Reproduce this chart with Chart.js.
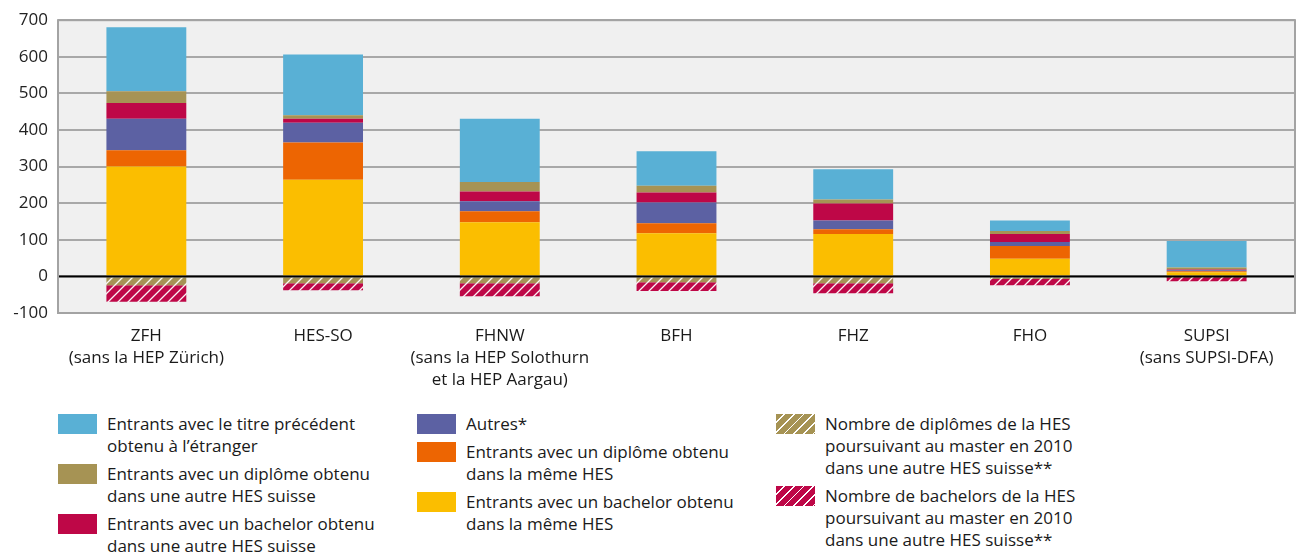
<!DOCTYPE html>
<html>
<head>
<meta charset="utf-8">
<script src="https://cdn.jsdelivr.net/npm/chart.js@4/dist/chart.umd.min.js"></script>
<style>
  html, body { margin: 0; padding: 0; background: #fff; }
  body { width: 1302px; height: 556px; position: relative; overflow: hidden; font-family: "Open Sans", sans-serif; color: #1a1a1a; }
  #wrap { position: absolute; left: 0; top: 0; width: 1302px; height: 400px; }
  .col { position: absolute; top: 413px; }
  .item { position: relative; padding-left: 49px; font-size: 17px; line-height: 22px; margin-bottom: 6px; white-space: nowrap; }
  .sw { position: absolute; left: 0; top: 1px; width: 39px; height: 20px; }
</style>
</head>
<body>
<div id="wrap"><canvas id="c" width="1302" height="400"></canvas></div>
<div id="legend"></div>
<script>
// ---- data ----
const categories = [
  ["ZFH", "(sans la HEP Zürich)"],
  ["HES-SO"],
  ["FHNW", "(sans la HEP Solothurn", "et la HEP Aargau)"],
  ["BFH"],
  ["FHZ"],
  ["FHO"],
  ["SUPSI", "(sans SUPSI-DFA)"]
];
const bachelorMemeHES   = [300, 264, 148, 118, 116, 48, 11];
const diplomeMemeHES    = [45, 102, 30, 27, 13, 35, 3];
const autres            = [86, 54, 27, 57, 24, 11, 3];
const bachelorAutreHES  = [43, 11, 27, 27, 46, 22, 2];
const diplomeAutreHES   = [32, 9, 26, 19, 11, 8, 5];
const titreEtranger     = [175, 166, 173, 94, 83, 29, 73];
const diplomesPoursuivant  = [-24, -19, -19, -16, -19, -7, -1];
const bachelorsPoursuivant = [-45, -19, -35, -24, -27, -17, -12];
const yTicks = [-100, 0, 100, 200, 300, 400, 500, 600, 700];

const labels = {
  etranger: ["Entrants avec le titre précédent", "obtenu à l’étranger"],
  diplAutre: ["Entrants avec un diplôme obtenu", "dans une autre HES suisse"],
  bachAutre: ["Entrants avec un bachelor obtenu", "dans une autre HES suisse"],
  autres: ["Autres*"],
  diplMeme: ["Entrants avec un diplôme obtenu", "dans la même HES"],
  bachMeme: ["Entrants avec un bachelor obtenu", "dans la même HES"],
  diplPours: ["Nombre de diplômes de la HES", "poursuivant au master en 2010", "dans une autre HES suisse**"],
  bachPours: ["Nombre de bachelors de la HES", "poursuivant au master en 2010", "dans une autre HES suisse**"]
};

const C = {
  blue: '#59b0d5', olive: '#a69354', red: '#be0747', purple: '#5c61a3', orange: '#ed6502', yellow: '#fbbe00'
};

function hatch(color) {
  const s = 10;
  const cv = document.createElement('canvas');
  cv.width = s; cv.height = s;
  const x = cv.getContext('2d');
  x.fillStyle = color; x.fillRect(0, 0, s, s);
  x.strokeStyle = 'rgba(255,255,255,0.95)';
  x.lineWidth = 1.3;
  x.beginPath();
  x.moveTo(0, s); x.lineTo(s, 0);
  x.moveTo(-1, 1); x.lineTo(1, -1);
  x.moveTo(s - 1, s + 1); x.lineTo(s + 1, s - 1);
  x.stroke();
  return x.createPattern(cv, 'repeat');
}

const ctx = document.getElementById('c').getContext('2d');
const common = { barPercentage: 0.452, categoryPercentage: 1.0, borderWidth: 0 };

const bgPlugin = {
  id: 'bg',
  beforeDraw(chart) {
    const a = chart.chartArea, g = chart.ctx;
    g.save(); g.fillStyle = '#f0f0f0'; g.fillRect(a.left, a.top, a.right - a.left, a.bottom - a.top); g.restore();
  },
  afterDatasetsDraw(chart) {
    const a = chart.chartArea, g = chart.ctx;
    const y0 = chart.scales.y.getPixelForValue(0);
    g.save();
    g.strokeStyle = '#000'; g.lineWidth = 2;
    g.beginPath(); g.moveTo(a.left, y0); g.lineTo(a.right, y0); g.stroke();
    g.strokeStyle = '#a3a3a3'; g.lineWidth = 2;
    g.strokeRect(a.left, a.top, a.right - a.left, a.bottom - a.top);
    g.restore();
  }
};

new Chart(ctx, {
  type: 'bar',
  data: {
    labels: categories,
    datasets: [
      { label: labels.bachMeme.join(' '), data: bachelorMemeHES, backgroundColor: C.yellow, ...common },
      { label: labels.diplMeme.join(' '), data: diplomeMemeHES, backgroundColor: C.orange, ...common },
      { label: labels.autres.join(' '), data: autres, backgroundColor: C.purple, ...common },
      { label: labels.bachAutre.join(' '), data: bachelorAutreHES, backgroundColor: C.red, ...common },
      { label: labels.diplAutre.join(' '), data: diplomeAutreHES, backgroundColor: C.olive, ...common },
      { label: labels.etranger.join(' '), data: titreEtranger, backgroundColor: C.blue, ...common },
      { label: labels.diplPours.join(' '), data: diplomesPoursuivant, backgroundColor: hatch(C.olive), ...common },
      { label: labels.bachPours.join(' '), data: bachelorsPoursuivant, backgroundColor: hatch(C.red), ...common }
    ]
  },
  options: {
    responsive: false,
    animation: false,
    layout: { padding: { left: 0, right: 7, top: 12, bottom: 0 } },
    plugins: { legend: { display: false }, tooltip: { enabled: false } },
    scales: {
      x: {
        stacked: true,
        grid: { display: false, drawTicks: false },
        border: { display: false },
        ticks: { color: '#1a1a1a', padding: 12, font: { family: 'Open Sans', size: 17, lineHeight: 1.3 }, maxRotation: 0, autoSkip: false },
        afterFit(s) { s.height = 87; }
      },
      y: {
        stacked: true,
        min: -100, max: 700,
        afterBuildTicks(s) { s.ticks = yTicks.map(v => ({ value: v })); },
        grid: { color: '#a8a8a8', lineWidth: 2, drawTicks: false },
        border: { display: false },
        ticks: { color: '#222', padding: 10, font: { family: 'Open Sans', size: 17 } },
        afterFit(s) { s.width = 58; }
      }
    }
  },
  plugins: [bgPlugin]
});

// ---- HTML legend ----
const cols = [
  { left: 58, items: [['etranger', C.blue, false], ['diplAutre', C.olive, false], ['bachAutre', C.red, false]] },
  { left: 417, items: [['autres', C.purple, false], ['diplMeme', C.orange, false], ['bachMeme', C.yellow, false]] },
  { left: 776, items: [['diplPours', C.olive, true], ['bachPours', C.red, true]] }
];
const lg = document.getElementById('legend');
cols.forEach(col => {
  const d = document.createElement('div');
  d.className = 'col'; d.style.left = col.left + 'px';
  col.items.forEach(([k, color, hatched]) => {
    const it = document.createElement('div'); it.className = 'item';
    const sw = document.createElement('span'); sw.className = 'sw';
    sw.style.background = hatched
      ? `repeating-linear-gradient(135deg, ${color} 0px, ${color} 5.6px, #fff 5.6px, #fff 6.8px)`
      : color;
    it.appendChild(sw);
    labels[k].forEach((t, i) => {
      if (i) it.appendChild(document.createElement('br'));
      it.appendChild(document.createTextNode(t));
    });
    d.appendChild(it);
  });
  lg.appendChild(d);
});
</script>
</body>
</html>
